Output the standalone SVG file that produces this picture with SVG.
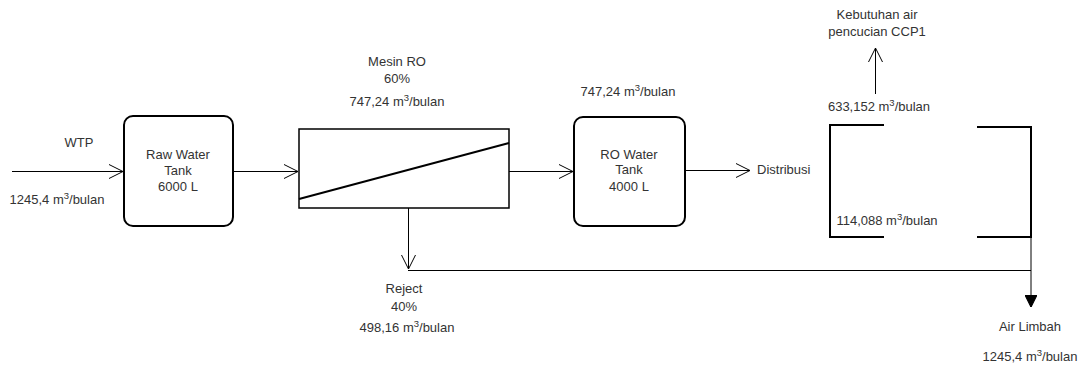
<svg xmlns="http://www.w3.org/2000/svg" width="1081" height="367" viewBox="0 0 1081 367">
<style>
text{font-family:"Liberation Sans",Arial,sans-serif;font-size:13px;fill:#333;text-anchor:middle}
.box{fill:#fff;stroke:#000;stroke-width:2}
.ln{fill:none;stroke:#000;stroke-width:1}
.thick{fill:none;stroke:#000;stroke-width:2}
.sup{font-size:9.5px}
</style>
<defs>
<marker id="open" markerUnits="userSpaceOnUse" markerWidth="16" markerHeight="16" refX="14" refY="7" orient="auto" viewBox="0 0 16 14">
<path d="M0,0 L14,7 L0,14" fill="none" stroke="#000" stroke-width="1"/>
</marker>
<marker id="filled" markerUnits="userSpaceOnUse" markerWidth="12" markerHeight="12" refX="10" refY="5" orient="auto" viewBox="0 0 10 10">
<path d="M0,0 L10,5 L0,10 Z" fill="#000" stroke="#000" stroke-width="1"/>
</marker>
</defs>
<rect width="1081" height="367" fill="#fff"/>
<g id="connectors">
<path class="ln" d="M12,171.5 H123" marker-end="url(#open)"/>
<path class="ln" d="M233,171.5 H298" marker-end="url(#open)"/>
<path class="ln" d="M509,171.5 H573" marker-end="url(#open)"/>
<path class="ln" d="M685,170.5 H750" marker-end="url(#open)"/>
<path class="ln" d="M408.5,208 V269" marker-end="url(#open)"/>
<path class="ln" d="M408,270.5 H1031"/>
<path class="ln" d="M1031,237 V307" marker-end="url(#filled)"/>
<path class="ln" d="M875.5,94 V48" marker-end="url(#open)"/>
</g>
<g id="wtp">
<text x="79" y="147">WTP</text>
<text x="57" y="204">1245,4 m<tspan class="sup" dy="-5">3</tspan><tspan dy="5">/bulan</tspan></text>
</g>
<g id="raw-water-tank">
<rect class="box" x="124" y="116" width="109" height="110" rx="9"/>
<text x="178" y="159">Raw Water</text>
<text x="178" y="175">Tank</text>
<text x="178" y="191">6000 L</text>
</g>
<g id="mesin-ro">
<rect class="box" x="299" y="129" width="210" height="79" style="stroke-width:1.5"/>
<path class="thick" d="M299,199 L509,143"/>
<text x="397" y="66">Mesin RO</text>
<text x="397" y="83">60%</text>
<text x="397" y="106">747,24 m<tspan class="sup" dy="-5">3</tspan><tspan dy="5">/bulan</tspan></text>
</g>
<g id="ro-water-tank">
<rect class="box" x="574" y="117" width="111" height="109" rx="9"/>
<text x="629" y="159">RO Water</text>
<text x="629" y="174">Tank</text>
<text x="629" y="191">4000 L</text>
<text x="628" y="96">747,24 m<tspan class="sup" dy="-5">3</tspan><tspan dy="5">/bulan</tspan></text>
</g>
<g id="distribusi">
<text x="757" y="174" style="text-anchor:start">Distribusi</text>
</g>
<g id="ccp1">
<path class="thick" d="M884,125 H830 V237 H884"/>
<path class="thick" d="M977,127 H1031 V237 H977"/>
<text x="877" y="19">Kebutuhan air</text>
<text x="877" y="36">pencucian CCP1</text>
<text x="879" y="111">633,152 m<tspan class="sup" dy="-5">3</tspan><tspan dy="5">/bulan</tspan></text>
<text x="887" y="225">114,088 m<tspan class="sup" dy="-5">3</tspan><tspan dy="5">/bulan</tspan></text>
</g>
<g id="reject">
<text x="404" y="293">Reject</text>
<text x="404" y="311">40%</text>
<text x="407" y="332">498,16 m<tspan class="sup" dy="-5">3</tspan><tspan dy="5">/bulan</tspan></text>
</g>
<g id="air-limbah">
<text x="1030" y="331">Air Limbah</text>
<text x="1030" y="361">1245,4 m<tspan class="sup" dy="-5">3</tspan><tspan dy="5">/bulan</tspan></text>
</g>
</svg>
